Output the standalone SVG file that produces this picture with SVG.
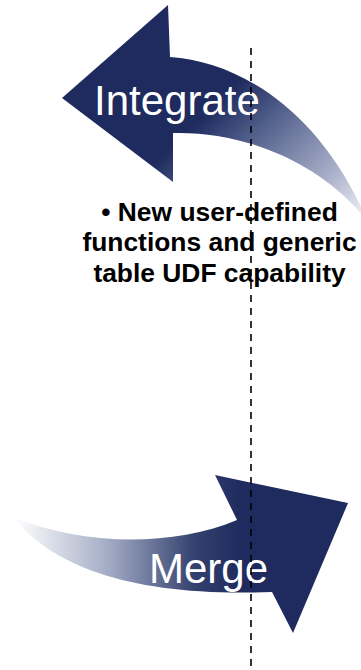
<svg xmlns="http://www.w3.org/2000/svg" width="361" height="670" viewBox="0 0 361 670">
  <style>
    .label { font-family: "Liberation Sans", Arial, sans-serif; fill: #ffffff; font-size: 42px; }
    .bullet { font-family: "Liberation Sans", Arial, sans-serif; fill: #000000; font-size: 26.4px; font-weight: bold; text-anchor: middle; }
    .divider { stroke: #000000; stroke-width: 1.6; stroke-dasharray: 7 6; fill: none; }
  </style>
  <defs>
    <!-- curved tail fades out toward the lower right -->
    <linearGradient id="fadeIntegrate" gradientUnits="userSpaceOnUse" x1="235" y1="85" x2="365" y2="220">
      <stop offset="0" stop-color="#1F2B5E"/>
      <stop offset="0.25" stop-color="#4F5D8A"/>
      <stop offset="0.7" stop-color="#A9B0C9"/>
      <stop offset="1" stop-color="#F4F5F9"/>
    </linearGradient>
    <!-- tail fades out toward the left -->
    <linearGradient id="fadeMerge" gradientUnits="userSpaceOnUse" x1="15" y1="0" x2="240" y2="0">
      <stop offset="0" stop-color="#FFFFFF"/>
      <stop offset="0.4" stop-color="#A7AFC8"/>
      <stop offset="0.8" stop-color="#34416F"/>
      <stop offset="1" stop-color="#1F2B5E"/>
    </linearGradient>
  </defs>

  <rect width="361" height="670" fill="#ffffff"/>

  <g id="integrate">
    <path d="M62,98 L168,5 L170,57 C240,62 320,110 368,222 C320,160 240,131 173,133 L173,182 Z" fill="url(#fadeIntegrate)"/>
    <text class="label" x="94" y="114.5">Integrate</text>
  </g>

  <g id="udf-note">
    <text class="bullet" x="219.5" y="220.5">• New user-defined</text>
    <text class="bullet" x="219.5" y="251">functions and generic</text>
    <text class="bullet" x="219.5" y="281.5">table UDF capability</text>
  </g>

  <g id="merge">
    <path d="M13,517 C80,545 170,548 237,520 L215,475 L348,503 L293,633 L272,592 C140,597 55,570 13,517 Z" fill="url(#fadeMerge)"/>
    <text class="label" x="149" y="583">Merge</text>
  </g>

  <g id="connectors">
    <line class="divider" x1="251" y1="48" x2="251" y2="670"/>
  </g>
</svg>
